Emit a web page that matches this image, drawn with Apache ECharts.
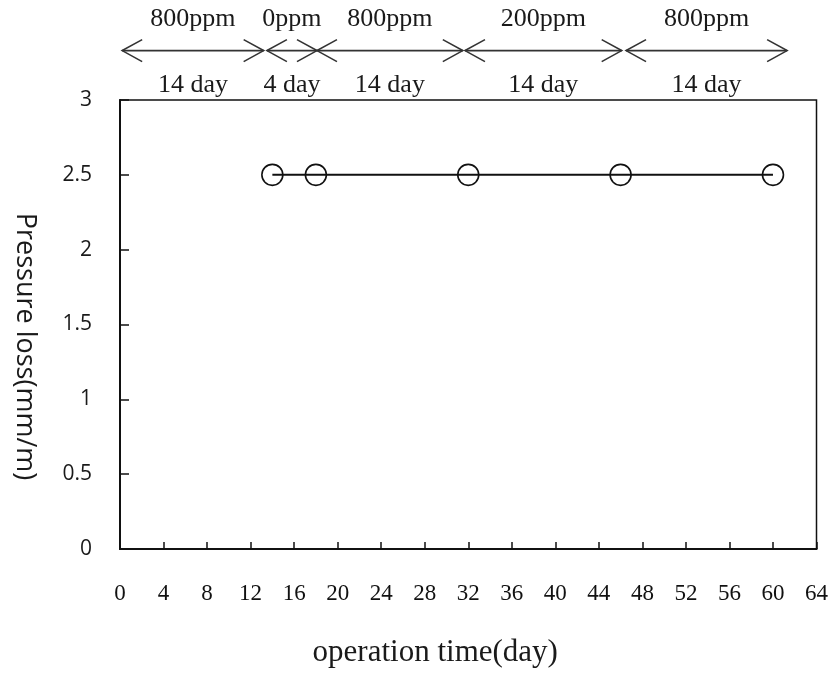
<!DOCTYPE html>
<html>
<head>
<meta charset="utf-8">
<script src="https://cdn.jsdelivr.net/npm/echarts@6/dist/echarts.min.js"></script>
<style>
  html, body { margin: 0; padding: 0; background: #fff; }
  #chart { width: 831px; height: 673px; }
</style>
</head>
<body>
<div id="chart"></div>
<script>
// Measured pressure loss at the end of each dosing period
const days = [14, 18, 32, 46, 60];
const pressureLoss = [2.5, 2.5, 2.5, 2.5, 2.5];

// Dosing periods shown as arrows above the plot (in days)
const periodStart = [0.2, 13.5, 18.1, 31.7, 46.5];
const periodEnd = [13.2, 18.1, 31.5, 46.1, 61.3];
const periodDose = ['800ppm', '0ppm', '800ppm', '200ppm', '800ppm'];
const periodLength = ['14 day', '4 day', '14 day', '14 day', '14 day'];
const arrowLevel = 3.33;

const xTickLabels = ['0','4','8','12','16','20','24','28','32','36','40','44','48','52','56','60','64'];
const yTickLabels = ['0','0.5','1','1.5','2','2.5','3'];

const serif = '"Liberation Serif", "Times New Roman", serif';
const sans = '"Open Sans", "Noto Sans", sans-serif';

const chart = echarts.init(document.getElementById('chart'));

const periodData = periodStart.map((s, i) => [s, periodEnd[i], arrowLevel]);

function renderPeriod(params, api) {
  const i = params.dataIndex;
  const a = api.coord([api.value(0), api.value(2)]);
  const b = api.coord([api.value(1), api.value(2)]);
  const y = a[1];
  const head = 20, spread = 11;
  const stroke = { stroke: '#333', lineWidth: 1.6, fill: null };
  const textBase = { fontFamily: serif, fontSize: 26, fill: '#1a1a1a', align: 'center', verticalAlign: 'middle' };
  const mid = (a[0] + b[0]) / 2;
  return {
    type: 'group',
    children: [
      { type: 'line', shape: { x1: a[0], y1: y, x2: b[0], y2: y }, style: stroke },
      { type: 'polyline', shape: { points: [[a[0] + head, y - spread], [a[0], y], [a[0] + head, y + spread]] }, style: stroke },
      { type: 'polyline', shape: { points: [[b[0] - head, y - spread], [b[0], y], [b[0] - head, y + spread]] }, style: stroke },
      { type: 'text', style: Object.assign({ x: mid, y: y - 31, text: periodDose[i] }, textBase) },
      { type: 'text', style: Object.assign({ x: mid, y: y + 35, text: periodLength[i] }, textBase) }
    ]
  };
}

chart.setOption({
  animation: false,
  backgroundColor: '#fff',
  grid: {
    left: 120, right: 14, top: 100, bottom: 124,
    show: true, borderColor: '#111', borderWidth: 1.5, backgroundColor: 'transparent'
  },
  xAxis: {
    type: 'value',
    min: 0, max: 64, interval: 4,
    name: 'operation time(day)',
    nameLocation: 'middle',
    nameGap: 88,
    nameTextStyle: { fontFamily: serif, fontSize: 31, color: '#1a1a1a', padding: [0, 66, 0, 0] },
    axisLine: { show: true, lineStyle: { color: '#111', width: 2 } },
    axisTick: { show: true, inside: true, length: 7, lineStyle: { color: '#111', width: 1.5 } },
    splitLine: { show: false },
    axisLabel: {
      margin: 33,
      fontFamily: serif,
      fontSize: 23, color: '#111',
      formatter: (v) => xTickLabels[Math.round(v / 4)]
    }
  },
  yAxis: {
    type: 'value',
    min: 0, max: 3, interval: 0.5,
    name: 'Pressure loss(mm/m)',
    nameLocation: 'middle',
    nameRotate: -90,
    nameGap: 82,
    nameTextStyle: { fontFamily: sans, fontSize: 27, color: '#1a1a1a', padding: [0, 0, 0, 44] },
    axisLine: { show: true, lineStyle: { color: '#111', width: 2 } },
    axisTick: { show: true, inside: true, length: 9, lineStyle: { color: '#111', width: 1.5 } },
    splitLine: { show: false },
    axisLabel: {
      margin: 28,
      fontFamily: sans,
      fontSize: 21, color: '#1a1a1a',
      formatter: (v) => yTickLabels[Math.round(v * 2)]
    }
  },
  series: [
    {
      type: 'line',
      data: days.map((d, i) => [d, pressureLoss[i]]),
      symbol: 'circle',
      symbolSize: 21,
      lineStyle: { color: '#111', width: 2 },
      itemStyle: { color: 'rgba(0,0,0,0)', borderColor: '#111', borderWidth: 1.6 }
    },
    {
      type: 'custom',
      clip: false,
      silent: true,
      renderItem: renderPeriod,
      encode: { x: [0, 1], y: 2 },
      data: periodData
    }
  ]
});
</script>
</body>
</html>
